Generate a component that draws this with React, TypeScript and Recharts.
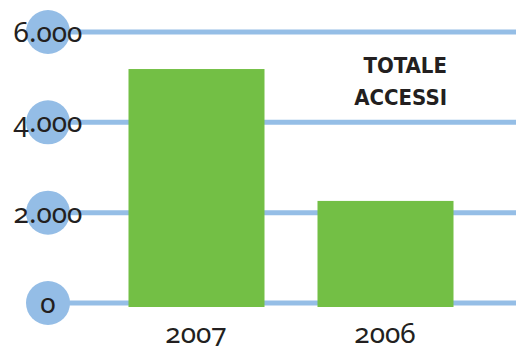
import React from 'react';
import { BarChart, Bar, XAxis, YAxis, CartesianGrid, Customized } from 'recharts';

const categories = ['2007', '2006'];
const accessi = [5180, 2260];
const yTicks = [0, 2000, 4000, 6000];
const yTickLabels: Record<number, string> = { 0: '0', 2000: '2.000', 4000: '4.000', 6000: '6.000' };
const titleLines = ['TOTALE', 'ACCESSI'];

const data = categories.map((c, i) => ({ year: c, value: accessi[i] }));

const NUM_FONT = '"Noto Sans", "Open Sans", sans-serif';
const TEXT_COLOR = '#231f20';

const YTick = (props: any) => {
  const { x, y, payload } = props;
  return (
    <g>
      <circle cx={x} cy={y} r={22} fill="#94bde6" />
      <text
        x={x}
        y={y + 10}
        textAnchor="middle"
        fontFamily={NUM_FONT}
        fontSize={28}
        fill={TEXT_COLOR}
        style={{ fontFeatureSettings: '"onum" 1' }}
      >
        {yTickLabels[payload.value] ?? String(payload.value)}
      </text>
    </g>
  );
};

const XTick = (props: any) => {
  const { x, y, payload } = props;
  return (
    <text
      x={x}
      y={y + 40}
      textAnchor="middle"
      fontFamily={NUM_FONT}
      fontSize={28}
      fill={TEXT_COLOR}
      style={{ fontFeatureSettings: '"onum" 1' }}
    >
      {payload.value}
    </text>
  );
};

const BarShape = (props: any) => {
  const { x, y, width, height, fill } = props;
  return <rect x={x} y={y} width={width} height={height + 4} fill={fill} />;
};

const Title = () => (
  <text
    textAnchor="end"
    fontFamily='"Liberation Sans Narrow", "DejaVu Sans Condensed", "Roboto Condensed", sans-serif'
    fontWeight="bold"
    fontSize={22}
    fill={TEXT_COLOR}
  >
    <tspan x={447} y={73}>{titleLines[0]}</tspan>
    <tspan x={447} y={105}>{titleLines[1]}</tspan>
  </text>
);

export default function App() {
  return (
    <div style={{ position: 'absolute', left: 0, top: 0, width: 516, height: 346, background: '#fff' }}>
      <BarChart width={516} height={346} data={data} margin={{ top: 32, right: 0, bottom: 0, left: 0 }}>
        <CartesianGrid vertical={false} stroke="#95bee6" strokeWidth={5} />
        <XAxis
          dataKey="year"
          height={43}
          axisLine={false}
          tickLine={false}
          tickSize={0}
          tickMargin={0}
          padding={{ left: 53.5, right: 36.5 }}
          tick={<XTick />}
          interval={0}
        />
        <YAxis
          width={48}
          domain={[0, 6000]}
          ticks={yTicks}
          interval={0}
          axisLine={false}
          tickLine={false}
          tickSize={0}
          tickMargin={0}
          tick={<YTick />}
        />
        <Bar dataKey="value" fill="#73bf45" barSize={136} isAnimationActive={false} shape={<BarShape />} />
        <Customized component={<Title />} />
      </BarChart>
    </div>
  );
}
